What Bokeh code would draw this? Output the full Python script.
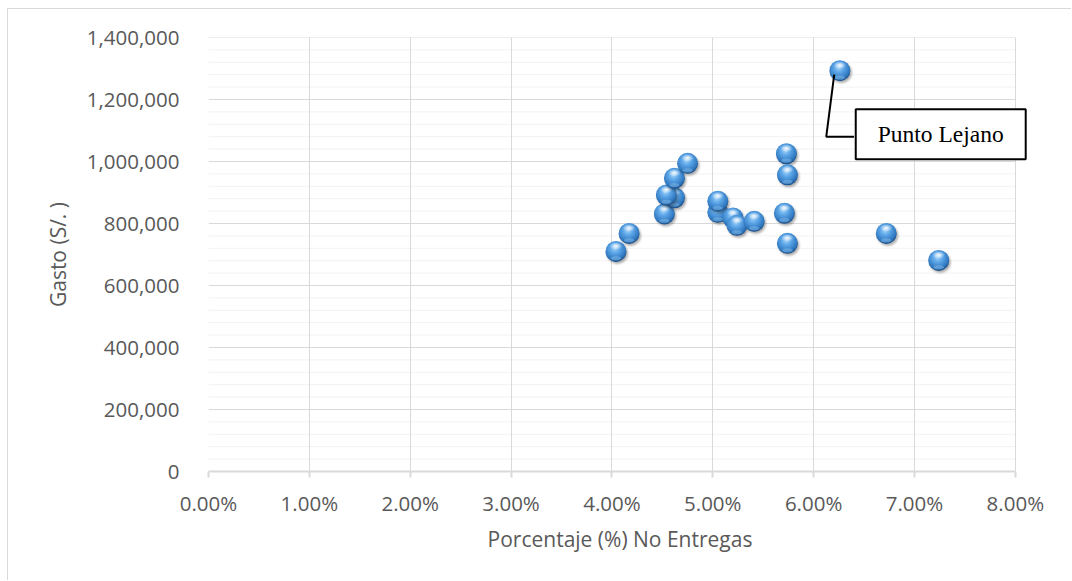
import base64

from bokeh.embed import file_html
from bokeh.models import (ColumnDataSource, FixedTicker, Label,
                          NumeralTickFormatter, Range1d)
from bokeh.plotting import figure
from bokeh.resources import INLINE

# Porcentaje de no entregas (fracción) y gasto en soles por punto
no_entregas = [0.0404, 0.0417, 0.0452, 0.0462, 0.0454, 0.0462, 0.0475,
               0.0505, 0.0505, 0.0520, 0.0524, 0.0541, 0.0571, 0.0573,
               0.0574, 0.0574, 0.0626, 0.0672, 0.0724]
gasto = [710000, 768000, 831000, 883000, 892000, 946000, 994000,
         836000, 872000, 818000, 794000, 807000, 833000, 1025000,
         957000, 736000, 1293000, 768000, 681000]

x_ticks = [i / 100 for i in range(0, 9)]
y_ticks = list(range(0, 1400001, 200000))
y_minor = [v for v in range(0, 1400001, 40000) if v % 200000]

X_MAX = 0.08
# a little room past 8% so the callout box is not cut off
X_VIEW = 0.0816

callout_text = "Punto Lejano"
# leader line of the callout: box edge -> elbow -> point
leader_x = [0.0640, 0.06125, 0.06204]
leader_y = [1080000, 1080000, 1280000]

GRID = "#d9d9d9"
MINOR = "#f2f2f2"
TEXT = "#595959"
FONT = "Open Sans"

# glossy sphere marker as an inline SVG image
sphere_svg = (
    "<svg xmlns='http://www.w3.org/2000/svg' width='30' height='30'>"
    "<defs>"
    "<radialGradient id='g' cx='45%' cy='35%' r='65%'>"
    "<stop offset='0' stop-color='#a6d4f8'/>"
    "<stop offset='0.35' stop-color='#5ea7e8'/>"
    "<stop offset='0.8' stop-color='#3078c0'/>"
    "<stop offset='1' stop-color='#1d4f86'/>"
    "</radialGradient>"
    "<radialGradient id='h' cx='50%' cy='50%' r='50%'>"
    "<stop offset='0' stop-color='#ffffff' stop-opacity='0.95'/>"
    "<stop offset='1' stop-color='#ffffff' stop-opacity='0'/>"
    "</radialGradient>"
    "<filter id='b' x='-50%' y='-50%' width='200%' height='200%'>"
    "<feGaussianBlur stdDeviation='1.3'/></filter>"
    "</defs>"
    "<circle cx='16.5' cy='17' r='10.5' fill='#1a1a1a' opacity='0.35' filter='url(#b)'/>"
    "<circle cx='15' cy='15' r='10.5' fill='url(#g)'/>"
    "<ellipse cx='15' cy='9.6' rx='6.2' ry='3.8' fill='url(#h)'/>"
    "<ellipse cx='15' cy='21.8' rx='5' ry='2' fill='#8cc4f0' opacity='0.45'/>"
    "</svg>"
)
sphere_url = "data:image/svg+xml;base64," + base64.b64encode(sphere_svg.encode()).decode()

source = ColumnDataSource(dict(x=no_entregas, y=gasto,
                               url=[sphere_url] * len(gasto)))

p = figure(width=1064, height=572, output_backend="svg", toolbar_location=None,
           x_range=Range1d(0, X_VIEW), y_range=Range1d(0, 1400000),
           min_border_left=200, min_border_right=41,
           min_border_top=28, min_border_bottom=110,
           margin=(8, 0, 0, 7),
           styles={"border-top": "1px solid #d9d9d9",
                   "border-left": "1px solid #d9d9d9"})
p.outline_line_color = None
p.background_fill_color = "white"
p.border_fill_color = "white"

p.xaxis.ticker = FixedTicker(ticks=x_ticks)
p.yaxis.ticker = FixedTicker(ticks=y_ticks)
p.xaxis.formatter = NumeralTickFormatter(format="0.00%")
p.yaxis.formatter = NumeralTickFormatter(format="0,0")
p.xaxis.bounds = (0, X_MAX)

# vertical gridlines from the axis ticks; horizontal ones stop at 8%
p.xgrid.grid_line_color = GRID
p.ygrid.grid_line_color = None
p.segment(x0=0, y0=y_minor, x1=X_MAX, y1=y_minor,
          line_color=MINOR, line_width=1, level="underlay")
p.segment(x0=0, y0=y_ticks, x1=X_MAX, y1=y_ticks,
          line_color=GRID, line_width=1, level="underlay")

for ax in (p.xaxis, p.yaxis):
    ax.major_label_text_font = FONT
    ax.major_label_text_font_size = "20.5px"
    ax.major_label_text_color = TEXT
    ax.axis_label_text_font = FONT
    ax.axis_label_text_font_size = "21px"
    ax.axis_label_text_font_style = "normal"
    ax.axis_label_text_color = TEXT
    ax.minor_tick_line_color = None

p.xaxis.axis_label = "Porcentaje (%) No Entregas"
p.yaxis.axis_label = "Gasto (S/. )"

p.xaxis.axis_line_color = GRID
p.xaxis.axis_line_width = 2
p.xaxis.major_tick_line_color = GRID
p.xaxis.major_tick_line_width = 2
p.xaxis.major_tick_in = 0
p.xaxis.major_tick_out = 6
p.xaxis.major_label_standoff = 11
p.xaxis.axis_label_standoff = 5

p.yaxis.axis_line_color = None
p.yaxis.major_tick_line_color = None
p.yaxis.major_tick_in = 0
p.yaxis.major_tick_out = 0
p.yaxis.major_label_standoff = 29
p.yaxis.axis_label_standoff = 12

# base disc, with the glossy sphere drawn over it
p.scatter("x", "y", source=source, size=20, fill_color="#3f87cf",
          line_color=None)
p.image_url(url="url", x="x", y="y", w=30, h=30, w_units="screen",
            h_units="screen", anchor="center", source=source)

# callout
p.line(leader_x, leader_y, line_color="black", line_width=2)
p.add_layout(Label(x=0.0726, y=1088000, text=callout_text,
                   text_font="Liberation Serif", text_font_size="23.5px",
                   text_color="black", text_align="center",
                   text_baseline="middle",
                   background_fill_color="white",
                   border_line_color="black", border_line_width=2,
                   padding=dict(left=22, right=22, top=12, bottom=12)))

open("out.html", "w").write(file_html(p, INLINE))
